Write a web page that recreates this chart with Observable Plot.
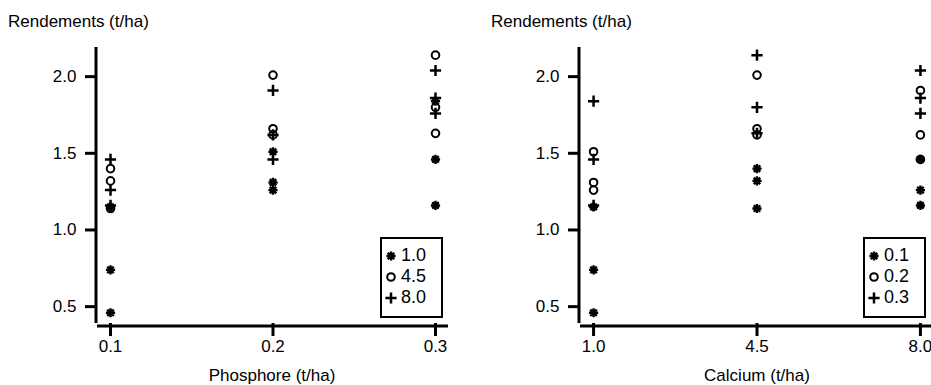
<!DOCTYPE html>
<html>
<head>
<meta charset="utf-8">
<script src="https://cdn.jsdelivr.net/npm/d3@7"></script>
<script src="https://cdn.jsdelivr.net/npm/@observablehq/plot@0.6"></script>
<style>
  html, body { margin: 0; padding: 0; background: #fff; }
  body { width: 931px; height: 385px; overflow: hidden; position: relative;
         font-family: "Liberation Sans", Arial, Helvetica, sans-serif; color: #000; }
  .panel { position: absolute; top: 0; }
  .txt { position: absolute; white-space: nowrap; }
  .ytitle { font-size: 17px; line-height: 19px; top: 12px; }
  .xtitle { font-size: 17px; line-height: 19px; top: 366px; transform: translateX(-50%); }
  .legend { position: absolute; border: 2.5px solid #000; background: #fff; box-sizing: border-box;
            padding: 6px 0 0 3px; }
  .legend .row { height: 21px; display: flex; align-items: center; font-size: 18px; }
  .legend svg { width: 12px; height: 14px; margin-right: 4px; overflow: visible; }
</style>
</head>
<body>
<script>
// ---- Data ----
const phosphore = [0.1, 0.2, 0.3];          // t/ha
const calcium = [1.0, 4.5, 8.0];            // t/ha
const yTicks = [0.5, 1.0, 1.5, 2.0];
const phosphoreTickLabels = ["0.1", "0.2", "0.3"];
const calciumTickLabels = ["1.0", "4.5", "8.0"];

// Rendements (t/ha), 3 replicates per combination
const rend_P01_Ca10 = [0.46, 0.74, 1.15];
const rend_P01_Ca45 = [1.14, 1.32, 1.40];
const rend_P01_Ca80 = [1.16, 1.26, 1.46];
const rend_P02_Ca10 = [1.26, 1.31, 1.51];
const rend_P02_Ca45 = [1.62, 1.66, 2.01];
const rend_P02_Ca80 = [1.46, 1.62, 1.91];
const rend_P03_Ca10 = [1.16, 1.46, 1.84];
const rend_P03_Ca45 = [1.63, 1.80, 2.14];
const rend_P03_Ca80 = [1.76, 1.86, 2.04];

const grid = [
  [rend_P01_Ca10, rend_P01_Ca45, rend_P01_Ca80],
  [rend_P02_Ca10, rend_P02_Ca45, rend_P02_Ca80],
  [rend_P03_Ca10, rend_P03_Ca45, rend_P03_Ca80]
];
const data = [];
phosphore.forEach((p, i) => calcium.forEach((c, j) => grid[i][j].forEach(y => data.push({P: p, Ca: c, y}))));

// ---- Symbols ----
const symAsterisk = {draw(ctx) { const r = 4.6, d = r * Math.SQRT1_2;
  ctx.moveTo(-r, 0); ctx.lineTo(r, 0); ctx.moveTo(0, -r); ctx.lineTo(0, r);
  ctx.moveTo(-d, -d); ctx.lineTo(d, d); ctx.moveTo(-d, d); ctx.lineTo(d, -d); }};
const symCircle = {draw(ctx) { const r = 3.8; ctx.moveTo(r, 0); ctx.arc(0, 0, r, 0, 2 * Math.PI); }};
const symPlus = {draw(ctx) { const r = 5.6;
  ctx.moveTo(-r, 0); ctx.lineTo(r, 0); ctx.moveTo(0, -r); ctx.lineTo(0, r); }};
const symbols = [symAsterisk, symCircle, symPlus];
const symWidth = [2.4, 2, 2.5];

const font = '"Liberation Sans", Arial, Helvetica, sans-serif';

function panel({xField, xLevels, xLabels, xPad, gField, gLevels}) {
  const xmin = xLevels[0] - xPad, xmax = xLevels[2] + xPad;
  const ymin = 0.39, ymax = 2.19;
  return Plot.plot({
    width: xField === "P" ? 465 : 467, height: 385,
    marginLeft: 97, marginRight: 17, marginTop: 47, marginBottom: 62,
    style: {fontFamily: font, fontSize: "17px", color: "#000", background: "transparent", overflow: "visible"},
    x: {domain: [xmin, xmax]},
    y: {domain: [ymin, ymax]},
    marks: [
      Plot.axisX({ticks: xLevels, tickFormat: (d, i) => xLabels[i], tickSize: 13, tickPadding: 3,
                  strokeWidth: 3, fontSize: 17, label: null}),
      Plot.axisY({ticks: yTicks, tickFormat: d3.format(".1f"), tickSize: 12, tickPadding: 9,
                  strokeWidth: 3, fontSize: 17, label: null}),
      Plot.ruleX([xmin], {y1: ymin, y2: ymax, strokeWidth: 3, dx: -1.5}),
      Plot.ruleY([ymin], {x1: xmin, x2: xmax, strokeWidth: 3, dy: 2.5}),
      ...gLevels.map((g, k) => Plot.dot(data.filter(d => d[gField] === g), {
        x: xField, y: "y", symbol: symbols[k], r: 4, fill: "none", stroke: "#000", strokeWidth: symWidth[k]
      }))
    ]
  });
}

function addText(text, cls, left) {
  const d = document.createElement("div");
  d.className = "txt " + cls; d.textContent = text;
  d.style.left = left + "px";
  document.body.appendChild(d);
}

function addLegend(left, labels) {
  const box = document.createElement("div");
  box.className = "legend";
  box.style.left = left + "px"; box.style.top = "237px";
  box.style.width = "63px"; box.style.height = "81px";
  labels.forEach((lab, k) => {
    const row = document.createElement("div"); row.className = "row";
    const svg = d3.create("svg").attr("viewBox", "-6 -7 12 14");
    const p = d3.path(); symbols[k].draw(p);
    svg.append("path").attr("d", p.toString()).attr("fill", "none").attr("stroke", "#000").attr("stroke-width", symWidth[k]);
    row.appendChild(svg.node());
    const s = document.createElement("span"); s.textContent = lab; row.appendChild(s);
    box.appendChild(row);
  });
  document.body.appendChild(box);
}

const left = panel({xField: "P", xLevels: phosphore, xLabels: phosphoreTickLabels, xPad: 0.008, gField: "Ca", gLevels: calcium});
left.classList.add("panel"); left.style.left = "0px";
document.body.appendChild(left);

const right = panel({xField: "Ca", xLevels: calcium, xLabels: calciumTickLabels, xPad: 0.28, gField: "P", gLevels: phosphore});
right.classList.add("panel"); right.style.left = "483px";
document.body.appendChild(right);

addText("Rendements (t/ha)", "ytitle", 8);
addText("Rendements (t/ha)", "ytitle", 491);
addText("Phosphore (t/ha)", "xtitle", 272);
addText("Calcium (t/ha)", "xtitle", 757);
addLegend(380, calciumTickLabels);
addLegend(863, phosphoreTickLabels);
</script>
</body>
</html>
